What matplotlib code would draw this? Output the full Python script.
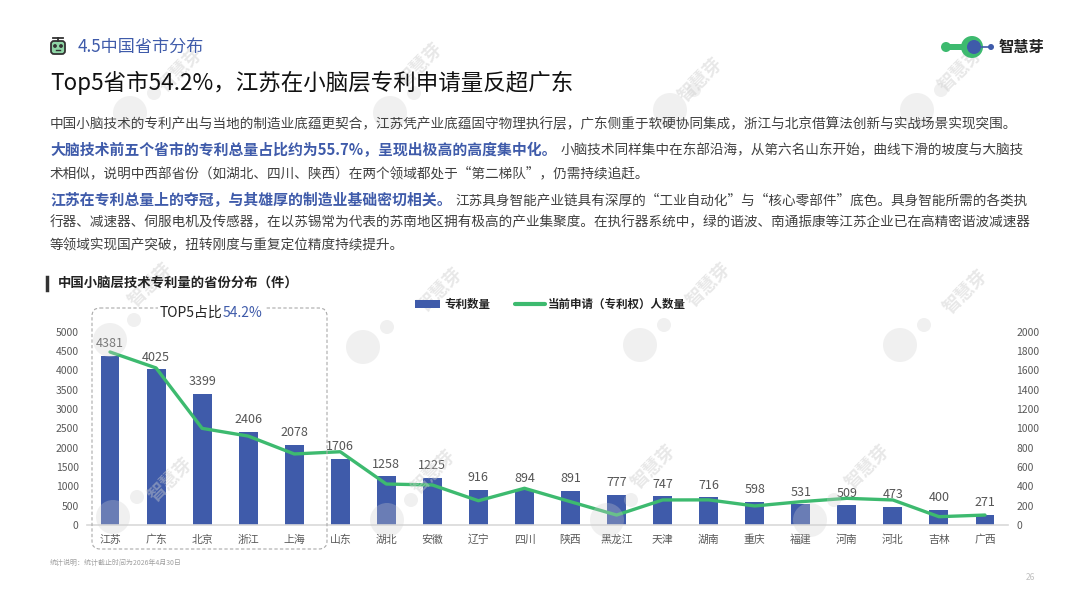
import matplotlib
matplotlib.use("Agg")
import matplotlib.pyplot as plt
from matplotlib.patches import FancyBboxPatch, Circle, Rectangle
from matplotlib.lines import Line2D

plt.rcParams['font.family'] = ['Noto Sans CJK SC', 'DejaVu Sans']

# ---- data ----
provinces = ['江苏', '广东', '北京', '浙江', '上海', '山东', '湖北', '安徽', '辽宁', '四川',
             '陕西', '黑龙江', '天津', '湖南', '重庆', '福建', '河南', '河北', '吉林', '广西']
patents = [4381, 4025, 3399, 2406, 2078, 1706, 1258, 1225, 916, 894,
           891, 777, 747, 716, 598, 531, 509, 473, 400, 271]
applicants = [1790, 1625, 1000, 920, 735, 758, 424, 414, 251, 380,
              241, 103, 259, 260, 197, 241, 276, 259, 86, 103]
left_ticks = list(range(0, 5001, 500))
right_ticks = list(range(0, 2001, 200))

BLUE = '#3F5BAA'
GREEN = '#3DBA6F'
GRAY = '#404040'

W, H = 1080, 608
fig = plt.figure(figsize=(W / 100, H / 100), dpi=100)
fig.patch.set_facecolor('white')

# ---- chart ----
ax = fig.add_axes([87 / W, 83 / H, 921 / W, 193.3 / H])
ax.set_facecolor('none')
x = list(range(len(provinces)))
ax.bar(x, patents, width=0.41, color=BLUE, zorder=2)
ax.set_xlim(-0.5, len(provinces) - 0.5)
ax.set_ylim(0, 5000)
ax.set_yticks(left_ticks)
ax.set_xticks(x)
ax.set_xticklabels(provinces)
ax.tick_params(axis='both', length=0, colors='#595959', labelsize=7.5)
ax.tick_params(axis='y', pad=6)
ax.tick_params(axis='x', pad=13, labelsize=7.8)
for lab in ax.get_xticklabels():
    lab.set_verticalalignment('baseline')
for s in ['top', 'left', 'right']:
    ax.spines[s].set_visible(False)
ax.spines['bottom'].set_color('#d9d9d9')
ax.spines['bottom'].set_linewidth(1.2)
for xi, v in zip(x, patents):
    ax.annotate(str(v), (xi, v), xytext=(0, 4), textcoords='offset points',
                ha='center', va='bottom', fontsize=9, color='#555555')

ax2 = ax.twinx()
ax2.plot(x, applicants, color=GREEN, lw=2.4, solid_capstyle='round', solid_joinstyle='round', zorder=3)
ax2.set_ylim(0, 2000)
ax2.set_yticks(right_ticks)
ax2.tick_params(axis='y', length=0, colors='#595959', labelsize=7.5, pad=6)
for s in ['top', 'left', 'right', 'bottom']:
    ax2.spines[s].set_visible(False)

# ---- overlay in pixel coordinates ----
ov = fig.add_axes([0, 0, 1, 1])
ov.set_xlim(0, W)
ov.set_ylim(H, 0)
ov.axis('off')
ov.set_facecolor('none')

# watermarks
wm_text = [(180, 70), (420, 65), (700, 80), (960, 70),
           (150, 285), (440, 290), (708, 285), (965, 292),
           (170, 480), (433, 472), (653, 467), (867, 467)]
for px, py in wm_text:
    ov.text(px, py, '智慧芽', rotation=45, fontsize=13, fontweight='bold',
            color='#cccccc', alpha=0.45, ha='center', va='center', zorder=1)
wm_circ = [(130, 113), (390, 113), (670, 110), (917, 110),
           (110, 340), (363, 347), (640, 345), (900, 345),
           (113, 517), (387, 520), (607, 520), (810, 520)]
for px, py in wm_circ:
    ov.add_patch(Circle((px, py), 17, color='#cfcfcf', alpha=0.3, lw=0, zorder=1))
    ov.add_patch(Circle((px + 24, py - 20), 7, color='#cfcfcf', alpha=0.3, lw=0, zorder=1))

# header icon
ov.add_patch(FancyBboxPatch((51, 41), 14, 13, boxstyle='round,pad=0,rounding_size=3',
                            fc='#8fd6a6', ec='#333333', lw=1.3, zorder=5))
ov.add_line(Line2D([53, 63], [38, 38], color='#333333', lw=1.3, zorder=5))
ov.add_line(Line2D([58, 58], [38, 41], color='#333333', lw=1.3, zorder=5))
ov.add_patch(Circle((55, 46), 1.2, color='#333333', zorder=6))
ov.add_patch(Circle((61, 46), 1.2, color='#333333', zorder=6))
ov.add_line(Line2D([56, 60], [50, 50], color='#333333', lw=1.0, zorder=6))
ov.text(78, 47, '4.5中国省市分布', fontsize=12.3, color=BLUE, ha='left', va='center', zorder=5)

# logo
ov.add_patch(Circle((946, 47), 5, color=GREEN, lw=0, zorder=5))
ov.add_patch(Rectangle((946, 44), 18, 6, color=GREEN, lw=0, zorder=5))
ov.add_patch(Circle((972, 47), 11, color=GREEN, lw=0, zorder=5))
ov.add_patch(Circle((974, 47), 7, color=BLUE, lw=0, zorder=6))
ov.add_line(Line2D([982, 990], [47, 47], color=BLUE, lw=1.2, zorder=6))
ov.add_patch(Circle((991, 47), 3, color=BLUE, lw=0, zorder=6))
ov.text(999, 47, '智慧芽', fontsize=11, fontweight='bold', color='#222222',
        ha='left', va='center', zorder=5)

# title
ov.text(50, 83, 'Top5省市54.2%，江苏在小脑层专利申请量反超广东', fontsize=16.2,
        fontweight='medium', color='#111111', ha='left', va='center', zorder=5)

# paragraphs
renderer = fig.canvas.get_renderer()


def write_line(y, parts):
    cx = 50
    for txt, emph in parts:
        t = ov.text(cx, y, txt, fontsize=10.7 if emph else 9.8, ha='left', va='center', zorder=5,
                    color=BLUE if emph else GRAY,
                    fontweight='bold' if emph else 'normal')
        bb = t.get_window_extent(renderer=renderer)
        cx = bb.x1 + (4 if emph else 0)


write_line(124, [('中国小脑技术的专利产出与当地的制造业底蕴更契合，江苏凭产业底蕴固守物理执行层，广东侧重于软硬协同集成，浙江与北京借算法创新与实战场景实现突围。', False)])
write_line(150, [('大脑技术前五个省市的专利总量占比约为55.7%，呈现出极高的高度集中化。', True),
                 ('小脑技术同样集中在东部沿海，从第六名山东开始，曲线下滑的坡度与大脑技', False)])
write_line(173, [('术相似，说明中西部省份（如湖北、四川、陕西）在两个领域都处于“第二梯队”，仍需持续追赶。', False)])
write_line(200, [('江苏在专利总量上的夺冠，与其雄厚的制造业基础密切相关。', True),
                 ('江苏具身智能产业链具有深厚的“工业自动化”与“核心零部件”底色。具身智能所需的各类执', False)])
write_line(222, [('行器、减速器、伺服电机及传感器，在以苏锡常为代表的苏南地区拥有极高的产业集聚度。在执行器系统中，绿的谐波、南通振康等江苏企业已在高精密谐波减速器', False)])
write_line(245, [('等领域实现国产突破，扭转刚度与重复定位精度持续提升。', False)])

# chart title
ov.add_line(Line2D([47, 47], [277, 290], color='#333333', lw=2.5, zorder=5))
ov.text(58, 283, '中国小脑层技术专利量的省份分布（件）', fontsize=9.6, fontweight='bold',
        color='#222222', ha='left', va='center', zorder=5)

# legend
ov.add_patch(Rectangle((415, 300), 25, 8, color=BLUE, lw=0, zorder=5))
ov.text(444, 304, '专利数量', fontsize=8.3, fontweight='bold', color='#222222',
        ha='left', va='center', zorder=5)
ov.add_line(Line2D([515, 545], [304, 304], color=GREEN, lw=3, solid_capstyle='round', zorder=5))
ov.text(548, 304, '当前申请（专利权）人数量', fontsize=8.3, fontweight='bold', color='#222222',
        ha='left', va='center', zorder=5)

# top5 box
ov.add_patch(FancyBboxPatch((92, 308), 235, 241, boxstyle='round,pad=0,rounding_size=8',
                            fc='none', ec='#aaaaaa', lw=0.8, ls=(0, (3, 2)), zorder=4))
t1 = ov.text(160, 313, 'TOP5占比', fontsize=10, color='#222222', ha='left', va='center', zorder=6,
             bbox=dict(fc='white', ec='none', pad=1.5))
bb = t1.get_window_extent(renderer=renderer)
ov.text(bb.x1, 313, '54.2%', fontsize=10, color=BLUE, ha='left', va='center', zorder=6,
        bbox=dict(fc='white', ec='none', pad=1.5))

# footnote & page number
ov.text(50, 563, '统计说明：统计截止时间为2026年4月30日', fontsize=5, color='#a0a0a0',
        ha='left', va='center', zorder=5)
ov.text(1030, 578, '26', fontsize=6, color='#c0c0c0', ha='center', va='center', zorder=5)

fig.savefig('out.png', dpi=100)
